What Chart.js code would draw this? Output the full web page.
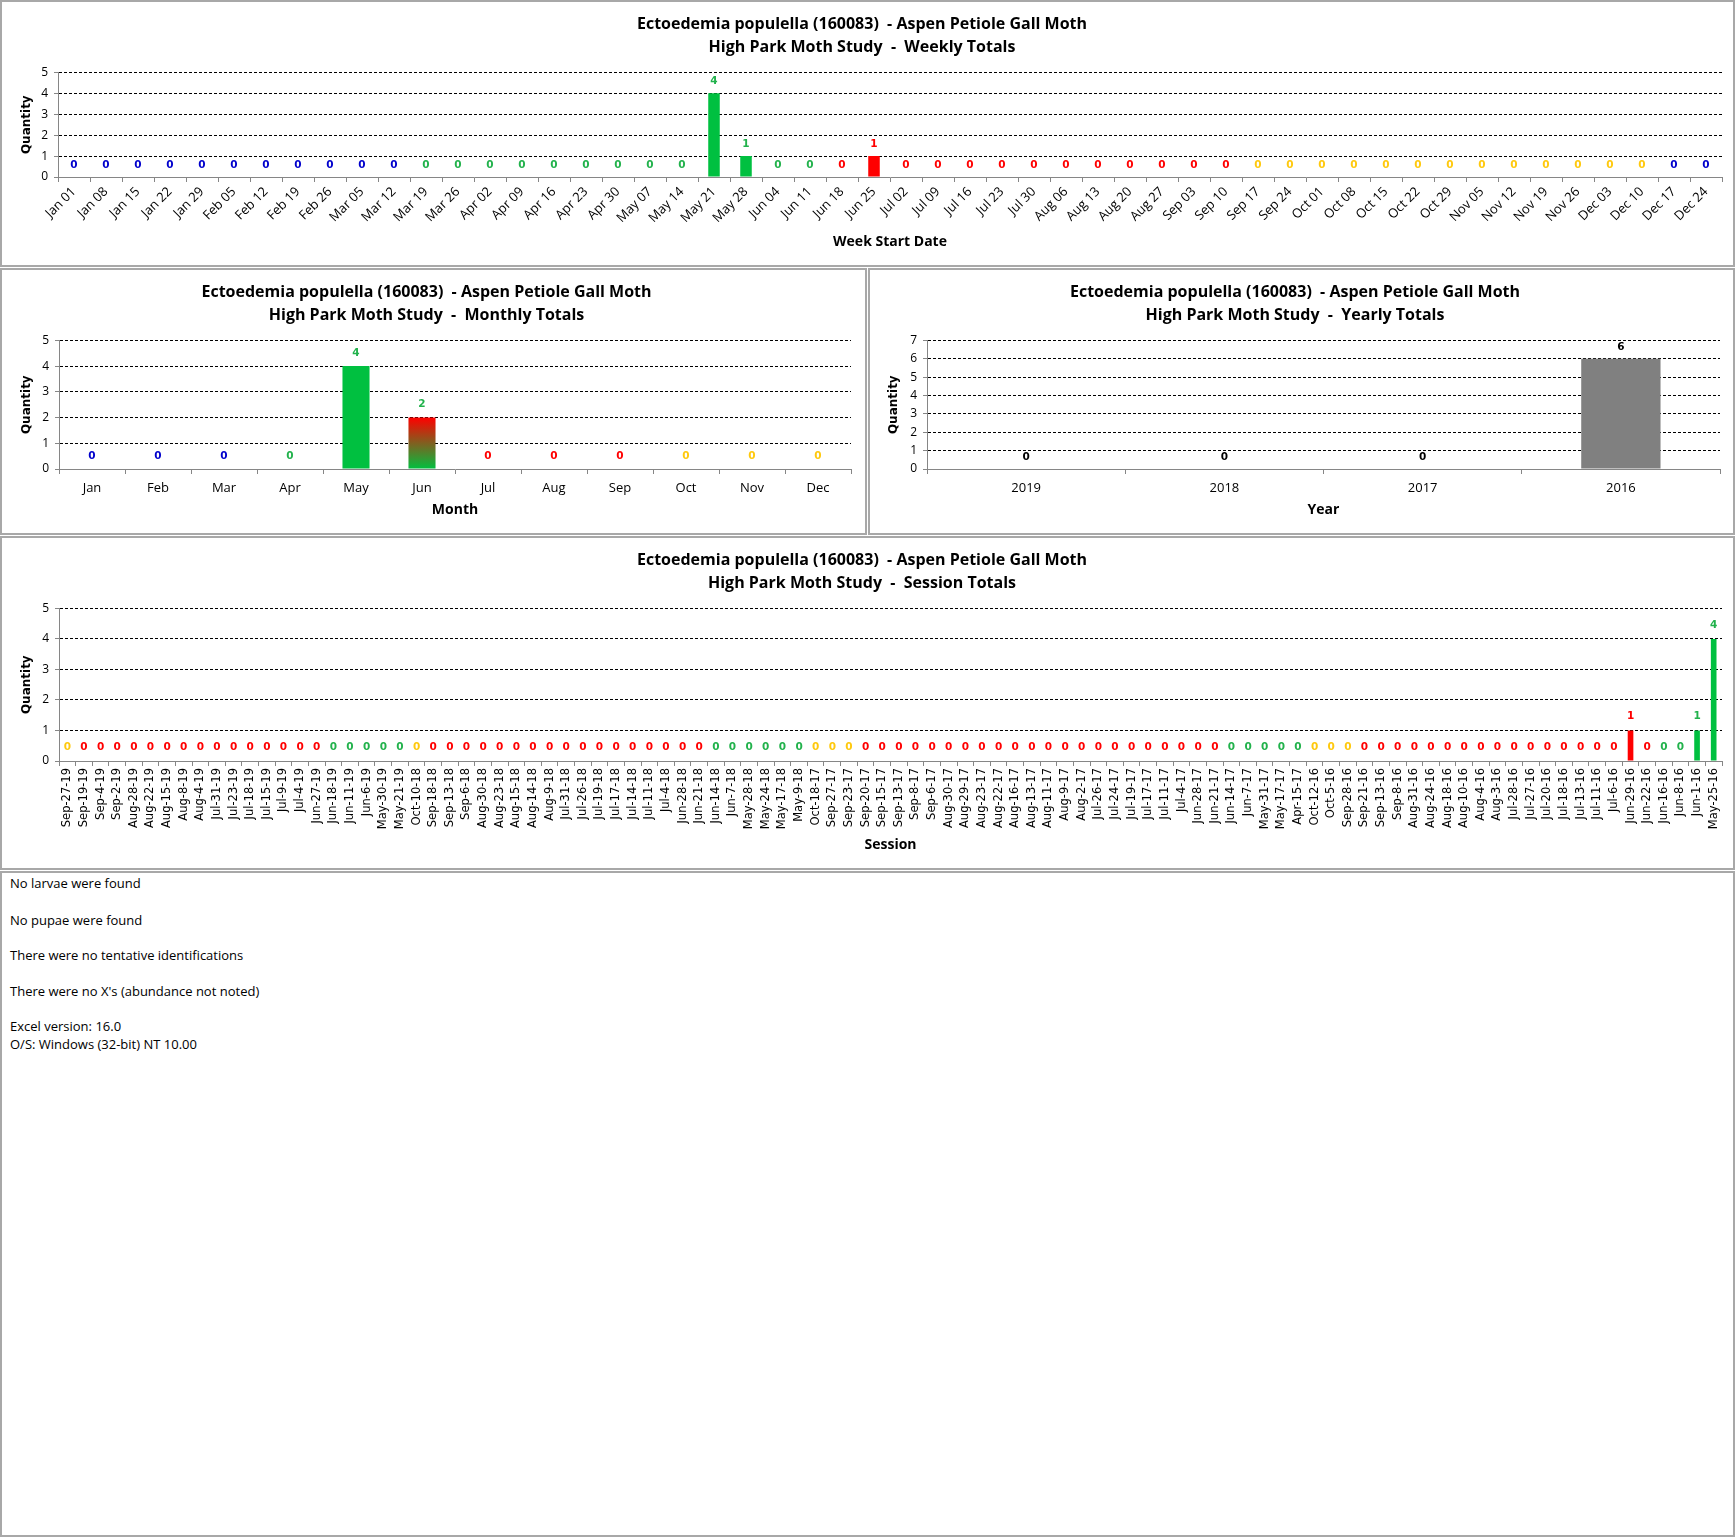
<!DOCTYPE html>
<html>
<head>
<meta charset="utf-8">
<script src="https://cdn.jsdelivr.net/npm/chart.js@4.4.0/dist/chart.umd.min.js"></script>
<style>
html,body{margin:0;padding:0;background:#fff;}
body{width:1736px;height:1538px;position:relative;overflow:hidden;font-family:'Open Sans',sans-serif;}
.panel{position:absolute;box-sizing:border-box;border:2px solid #a8a8a8;background:#fff;}
.wrap{position:absolute;left:0;top:0;right:0;bottom:0;}
.note{position:absolute;left:8px;font-size:13px;color:#000;line-height:16px;white-space:nowrap;}
</style>
</head>
<body>
<div class="panel" style="left:0;top:0;width:1735px;height:267px"><div class="wrap"><canvas id="cWeek"></canvas></div></div>
<div class="panel" style="left:0;top:268px;width:867px;height:267px"><div class="wrap"><canvas id="cMonth"></canvas></div></div>
<div class="panel" style="left:868px;top:268px;width:867px;height:267px"><div class="wrap"><canvas id="cYear"></canvas></div></div>
<div class="panel" style="left:0;top:536px;width:1735px;height:334px"><div class="wrap"><canvas id="cSession"></canvas></div></div>
<div class="panel" style="left:0;top:871px;width:1735px;height:666px">
  <div class="note" style="top:2px">No larvae were found</div>
  <div class="note" style="top:39px">No pupae were found</div>
  <div class="note" style="top:74px">There were no tentative identifications</div>
  <div class="note" style="top:110px">There were no X's (abundance not noted)</div>
  <div class="note" style="top:145px">Excel version: 16.0</div>
  <div class="note" style="top:163px">O/S: Windows (32-bit) NT 10.00</div>
</div>
<script>
// ---------------- DATA ----------------
const titleLine1 = 'Ectoedemia populella (160083)  - Aspen Petiole Gall Moth';
const weekLabels = ['Jan 01','Jan 08','Jan 15','Jan 22','Jan 29','Feb 05','Feb 12','Feb 19','Feb 26','Mar 05','Mar 12','Mar 19','Mar 26','Apr 02','Apr 09','Apr 16','Apr 23','Apr 30','May 07','May 14','May 21','May 28','Jun 04','Jun 11','Jun 18','Jun 25','Jul 02','Jul 09','Jul 16','Jul 23','Jul 30','Aug 06','Aug 13','Aug 20','Aug 27','Sep 03','Sep 10','Sep 17','Sep 24','Oct 01','Oct 08','Oct 15','Oct 22','Oct 29','Nov 05','Nov 12','Nov 19','Nov 26','Dec 03','Dec 10','Dec 17','Dec 24'];
const weekValues = [0,0,0,0,0, 0,0,0,0, 0,0,0,0, 0,0,0,0,0, 0,0,4,1, 0,0,0,1, 0,0,0,0,0, 0,0,0,0, 0,0,0,0, 0,0,0,0,0, 0,0,0,0, 0,0,0,0];
const monthLabels = ['Jan','Feb','Mar','Apr','May','Jun','Jul','Aug','Sep','Oct','Nov','Dec'];
const monthValues = [0,0,0,0,4,2,0,0,0,0,0,0];
const yearLabels = ['2019','2018','2017','2016'];
const yearValues = [0,0,0,6];
const sessionLabels = ['Sep-27-19','Sep-19-19','Sep-4-19','Sep-2-19','Aug-28-19','Aug-22-19','Aug-15-19','Aug-8-19','Aug-4-19','Jul-31-19','Jul-23-19','Jul-18-19','Jul-15-19','Jul-9-19','Jul-4-19','Jun-27-19','Jun-18-19','Jun-11-19','Jun-6-19','May-30-19','May-21-19',
 'Oct-10-18','Sep-18-18','Sep-13-18','Sep-6-18','Aug-30-18','Aug-23-18','Aug-15-18','Aug-14-18','Aug-9-18','Jul-31-18','Jul-26-18','Jul-19-18','Jul-17-18','Jul-14-18','Jul-11-18','Jul-4-18','Jun-28-18','Jun-21-18','Jun-14-18','Jun-7-18','May-28-18','May-24-18','May-17-18','May-9-18',
 'Oct-18-17','Sep-27-17','Sep-23-17','Sep-20-17','Sep-15-17','Sep-13-17','Sep-8-17','Sep-6-17','Aug-30-17','Aug-29-17','Aug-23-17','Aug-22-17','Aug-16-17','Aug-13-17','Aug-11-17','Aug-9-17','Aug-2-17','Jul-26-17','Jul-24-17','Jul-19-17','Jul-17-17','Jul-11-17','Jul-4-17','Jun-28-17','Jun-21-17','Jun-14-17','Jun-7-17','May-31-17','May-17-17','Apr-15-17',
 'Oct-12-16','Oct-5-16','Sep-28-16','Sep-21-16','Sep-13-16','Sep-8-16','Aug-31-16','Aug-24-16','Aug-18-16','Aug-10-16','Aug-4-16','Aug-3-16','Jul-28-16','Jul-27-16','Jul-20-16','Jul-18-16','Jul-13-16','Jul-11-16','Jul-6-16','Jun-29-16','Jun-22-16','Jun-16-16','Jun-8-16','Jun-1-16','May-25-16'];
const sessionValues = [0,0,0,0,0,0,0,0,0,0,0,0,0,0,0,0,0,0,0,0,0,
 0,0,0,0,0,0,0,0,0,0,0,0,0,0,0,0,0,0,0,0,0,0,0,0,
 0,0,0,0,0,0,0,0,0,0,0,0,0,0,0,0,0,0,0,0,0,0,0,0,0,0,0,0,0,0,
 0,0,0,0,0,0,0,0,0,0,0,0,0,0,0,0,0,0,0,1,0,0,0,1,4];

// ---------------- STYLE ----------------
const FONT = "'Open Sans',sans-serif";
const LABEL_FONT = "bold 10.5px 'DejaVu Sans', sans-serif";
const MONTHS = {Jan:1,Feb:2,Mar:3,Apr:4,May:5,Jun:6,Jul:7,Aug:8,Sep:9,Oct:10,Nov:11,Dec:12};
const TEXT_COL = {winter:'#0000CC', spring:'#22B24C', summer:'#FF0000', autumn:'#FFC90E'};
const BAR_COL  = {winter:'#0000CC', spring:'#00C040', summer:'#FF0000', autumn:'#FFC90E'};
function season(m, d){
  const v = m*100 + d;
  if (v >= 1221 || v < 320) return 'winter';
  if (v < 621) return 'spring';
  if (v < 922) return 'summer';
  return 'autumn';
}
const weekSeason = weekLabels.map(l => {
  const [mn, dd] = l.split(' ');
  const dt = new Date(2018, MONTHS[mn]-1, parseInt(dd,10)+6);
  return season(dt.getMonth()+1, dt.getDate());
});
const sessionSeason = sessionLabels.map(l => {
  const p = l.split('-');
  return season(MONTHS[p[0]], parseInt(p[1],10));
});
const monthSeason = monthLabels.map((l,i) => season(i+1, 1));
const monthEndSeason = monthLabels.map((l,i) => season(i+1, new Date(2018, i+1, 0).getDate()));

function labelPlugin(colors, offset){
  return {
    id:'valueLabels',
    afterDatasetsDraw(chart){
      const ctx = chart.ctx;
      const meta = chart.getDatasetMeta(0);
      const data = chart.data.datasets[0].data;
      ctx.save();
      ctx.font = LABEL_FONT;
      ctx.textAlign = 'center';
      ctx.textBaseline = 'middle';
      meta.data.forEach((el, i) => {
        ctx.fillStyle = colors[i];
        ctx.fillText(String(data[i]), el.x, el.y - offset);
      });
      ctx.restore();
    }
  };
}

function baseOptions(o){
  return {
    responsive:true, maintainAspectRatio:false, animation:false,
    layout:{padding:{left:0, right:o.padRight, top:0, bottom:0}},
    plugins:{
      legend:{display:false}, tooltip:{enabled:false},
      title:{display:true, text:[titleLine1, o.title2], color:'#000',
        font:{family:FONT, size:16, weight:'bold', lineHeight:1.45},
        padding:{top:11, bottom:13}}
    },
    scales:{
      x:{
        grid:{display:true, drawOnChartArea:false, offset:true, color:'#868686', tickLength:5},
        border:{display:true, color:'#868686', width:1},
        ticks:{autoSkip:false, color:'#000', minRotation:o.rot, maxRotation:o.rot,
          font:o.xFont, padding:o.xPad},
        title:{display:true, text:o.xTitle, color:'#000',
          font:{family:FONT, size:14, weight:'bold', lineHeight:1.2}, padding:{top:0, bottom:o.xTitlePad}},
        afterFit:s => { s.height = o.xHeight; }
      },
      y:{
        min:0, max:o.yMax,
        ticks:{stepSize:1, color:'#000', font:{family:FONT, size:12}, padding:6},
        grid:{color:c => (c.tick && c.tick.value === 0) ? 'rgba(0,0,0,0)' : '#000',
          tickColor:'#868686', tickLength:4, lineWidth:1},
        border:{display:true, color:'#868686', width:1, dash:[3,2]},
        title:{display:true, text:'Quantity', color:'#000',
          font:{family:"'DejaVu Sans', sans-serif", size:12, weight:'bold', lineHeight:1.2}, padding:{top:o.yTitlePad, bottom:0}},
        afterFit:s => { s.width = o.yWidth; }
      }
    }
  };
}

// Weekly
new Chart(document.getElementById('cWeek'), {
  type:'bar',
  data:{labels:weekLabels, datasets:[{data:weekValues,
    backgroundColor:weekSeason.map(s => BAR_COL[s]),
    categoryPercentage:1, barPercentage:0.36}]},
  options:baseOptions({padRight:11, title2:'High Park Moth Study  -  Weekly Totals', rot:45,
    xFont:{family:FONT, size:13}, xPad:2, xTitle:'Week Start Date', xTitlePad:15, xHeight:88,
    yMax:5, yTitlePad:18, yWidth:56}),
  plugins:[labelPlugin(weekSeason.map(s => TEXT_COL[s]), 12)]
});

// Monthly
new Chart(document.getElementById('cMonth'), {
  type:'bar',
  data:{labels:monthLabels, datasets:[{data:monthValues,
    backgroundColor:ctx => {
      const i = ctx.dataIndex;
      const s0 = monthSeason[i], s1 = monthEndSeason[i];
      if (s0 === s1 || !ctx.chart.scales || !ctx.chart.scales.y) return BAR_COL[s0];
      const ys = ctx.chart.scales.y;
      const g = ctx.chart.ctx.createLinearGradient(0, ys.getPixelForValue(monthValues[i]), 0, ys.getPixelForValue(0));
      g.addColorStop(0, BAR_COL[s1]);
      g.addColorStop(1, BAR_COL[s0]);
      return g;
    },
    categoryPercentage:1, barPercentage:0.41}]},
  options:baseOptions({padRight:14, title2:'High Park Moth Study  -  Monthly Totals', rot:0,
    xFont:{family:FONT, size:13}, xPad:6, xTitle:'Month', xTitlePad:15, xHeight:64,
    yMax:5, yTitlePad:18, yWidth:57}),
  plugins:[labelPlugin(monthSeason.map(s => TEXT_COL[s]), 13)]
});

// Yearly
new Chart(document.getElementById('cYear'), {
  type:'bar',
  data:{labels:yearLabels, datasets:[{data:yearValues, backgroundColor:'#808080',
    categoryPercentage:1, barPercentage:0.4}]},
  options:baseOptions({padRight:13, title2:'High Park Moth Study  -  Yearly Totals', rot:0,
    xFont:{family:FONT, size:13}, xPad:6, xTitle:'Year', xTitlePad:15, xHeight:64,
    yMax:7, yTitlePad:17, yWidth:57}),
  plugins:[labelPlugin(yearLabels.map(() => '#000'), 12)]
});

// Session
new Chart(document.getElementById('cSession'), {
  type:'bar',
  data:{labels:sessionLabels, datasets:[{data:sessionValues,
    backgroundColor:sessionSeason.map(s => BAR_COL[s]),
    categoryPercentage:1, barPercentage:0.34}]},
  options:baseOptions({padRight:11, title2:'High Park Moth Study  -  Session Totals', rot:90,
    xFont:{family:"'DejaVu Sans', sans-serif", size:11.5}, xPad:2, xTitle:'Session', xTitlePad:15, xHeight:107,
    yMax:5, yTitlePad:18, yWidth:57}),
  plugins:[labelPlugin(sessionSeason.map(s => TEXT_COL[s]), 14)]
});
</script>
</body>
</html>
